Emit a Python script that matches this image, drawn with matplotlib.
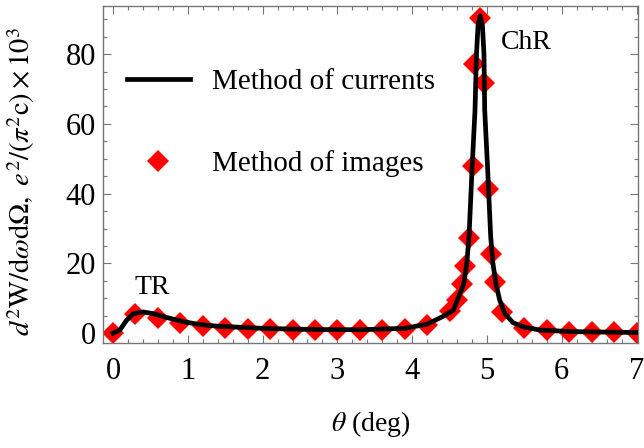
import matplotlib
matplotlib.use("Agg")
import matplotlib.pyplot as plt
from matplotlib.ticker import MultipleLocator

plt.rcParams["font.family"] = ["Liberation Serif", "DejaVu Serif"]
plt.rcParams["mathtext.fontset"] = "stix"

# spectral-angular density, method of currents (solid curve)
theta_cur = [0.00, 0.09, 0.18, 0.27, 0.40, 0.54, 0.72, 0.94, 1.16, 1.40,
             1.61, 2.05, 2.72, 3.30, 3.90, 4.20, 4.42, 4.55, 4.64, 4.69,
             4.73, 4.76, 4.80, 4.84, 4.86, 4.88, 4.91, 4.94, 4.96, 4.97,
             5.01, 5.05, 5.08, 5.12, 5.17, 5.24, 5.35, 5.49, 5.71, 6.15,
             7.00]
w_cur = [0.0, 0.9, 3.7, 5.6, 6.1, 5.6, 4.5, 3.3, 2.5, 2.0,
         1.8, 1.35, 1.05, 1.0, 1.4, 2.6, 4.9, 6.6, 11.4, 14.2,
         20.0, 27.6, 46.7, 63.9, 80.0, 88.0, 91.0, 88.0, 80.0, 63.9,
         46.7, 27.6, 20.0, 14.2, 9.5, 5.6, 3.0, 1.8, 0.9, 0.45,
         0.2]

# method of images (diamonds)
theta_img = [0.0, 0.3, 0.6, 0.9, 1.2, 1.5, 1.8, 2.1, 2.4, 2.7,
             3.0, 3.3, 3.6, 3.9, 4.2, 4.5, 4.6, 4.66, 4.71, 4.76,
             4.81, 4.83, 4.91, 4.96, 5.01, 5.06, 5.11, 5.2, 5.5, 5.8,
             6.1, 6.4, 6.7, 7.0]
w_img = [0.0, 5.6, 4.5, 2.8, 2.0, 1.6, 1.3, 1.1, 1.0, 0.8,
         0.8, 0.9, 0.9, 1.3, 2.3, 6.4, 9.4, 14.0, 19.2, 27.4,
         47.8, 77.3, 90.5, 71.7, 41.3, 22.6, 14.7, 6.1, 1.5, 0.9,
         0.4, 0.4, 0.3, 0.0]

fig = plt.figure(figsize=(6.44, 4.48), dpi=100)
ax = fig.add_axes([0.16, 0.2344, 0.8307, 0.7522])

ax.plot(theta_img, w_img, linestyle="none", marker="D", markersize=11,
        color="#ff0000", markeredgewidth=0, label="Method of images", zorder=2)
ax.plot(theta_cur, w_cur, color="black", linewidth=3.4,
        label="Method of currents", zorder=3)

ax.set_xlim(-0.134, 7.02)
ax.set_ylim(-2.8, 93.8)

ax.xaxis.set_major_locator(MultipleLocator(1))
ax.xaxis.set_minor_locator(MultipleLocator(0.2))
ax.yaxis.set_major_locator(MultipleLocator(20))
ax.yaxis.set_minor_locator(MultipleLocator(5))
ax.tick_params(which="both", direction="in", top=True, right=True,
               color="#777777", width=0.8)
ax.tick_params(which="major", length=6)
ax.tick_params(which="minor", length=3)
ax.tick_params(axis="x", labelsize=22, pad=10)
ax.tick_params(axis="y", labelsize=22, pad=5)
for s in ax.spines.values():
    s.set_color("#777777")
    s.set_linewidth(1.0)

ax.set_xlabel(r"$\theta$ (deg)", fontsize=20)
ax.xaxis.set_label_coords(0.5, -0.195)
ax.set_ylabel(r"$d^2\mathrm{W/d}\omega\mathrm{d}\Omega,\ e^2/(\pi^2\mathrm{c})\times10^3$",
              fontsize=20.5)
ax.yaxis.set_label_coords(-0.123, 0.48)

ax.text(0.53, 13.2, "TR", fontsize=20, ha="center", va="center")
ax.text(5.53, 83.4, "ChR", fontsize=20, ha="center", va="center")

handles, labels = ax.get_legend_handles_labels()
ax.legend(handles[::-1], labels[::-1], loc="upper left",
          bbox_to_anchor=(0.045, 0.815), frameon=False, fontsize=21,
          borderpad=0, borderaxespad=0, handlelength=2.15,
          handletextpad=0.75, labelspacing=1.9)

fig.savefig("out.png", dpi=100)
